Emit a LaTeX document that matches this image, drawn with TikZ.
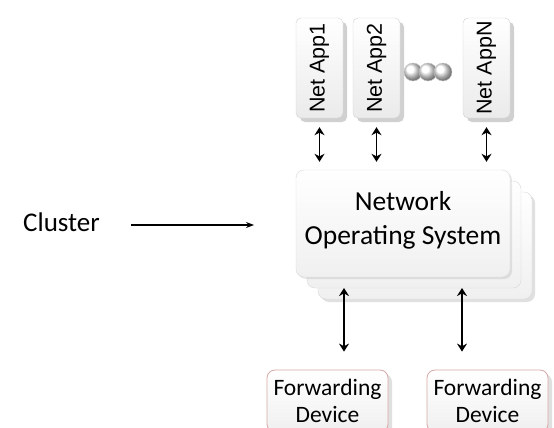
\documentclass[tikz,border=0pt]{standalone}
\usepackage{fontspec}
\setmainfont{Carlito}
\newfontfamily\appfont{Liberation Sans}
\usetikzlibrary{shadows,arrows.meta}
\definecolor{fwdborder}{RGB}{214,168,168}
\begin{document}
\begin{tikzpicture}[x=1pt,y=-1pt,
  appbox/.style={draw=black!18, rounded corners=5pt, top color=white, bottom color=black!8,
    minimum width=47pt, minimum height=100pt, inner sep=0pt,
    drop shadow={shadow xshift=4pt, shadow yshift=-4pt, opacity=0.3, fill=black!60}},
  noslayer/.style={draw=black!15, rounded corners=8pt, top color=white, bottom color=blue!4!black!6,
    minimum width=214pt, minimum height=107pt, inner sep=0pt},
  fwdbox/.style={draw=fwdborder, line width=0.8pt, rounded corners=8pt, top color=white, bottom color=black!6,
    minimum width=121pt, minimum height=62pt, inner sep=0pt,
    drop shadow={shadow xshift=4pt, shadow yshift=-4pt, opacity=0.2, fill=black!60}},
  ball/.style={circle, draw=black!22, ball color=white, minimum size=18pt, inner sep=0pt},
  bigarrow/.style={{Stealth[length=8pt,width=10pt]}-{Stealth[length=8pt,width=10pt]}, line width=1.8pt},
  thinarrow/.style={-{Stealth[length=8pt,width=6pt]}, line width=1.2pt},
  apptext/.style={font=\appfont\fontsize{21.5}{24}\selectfont},
  bodytext/.style={font=\fontsize{27.5}{34}\selectfont, align=center},
  fwdtext/.style={font=\fontsize{23.5}{27}\selectfont, align=center}
]
\useasboundingbox (0,0) rectangle (554,428);
\clip (0,0) rectangle (554,428);
\fill[white] (0,0) rectangle (554,428);

% Net apps
\node[appbox, apptext] (a1) at (319.5,68) {\rotatebox{90}{Net App1}};
\node[appbox, apptext] (a2) at (376.5,68) {\rotatebox{90}{Net App2}};
\node[appbox, apptext] (an) at (486.5,68) {\rotatebox{90}{Net AppN}};
\node[ball] (b1) at (413,72) {};
\node[ball] (b2) at (428,72) {};
\node[ball] (b3) at (443,72) {};

% NOS stack
\node[noslayer, drop shadow={shadow xshift=3pt, shadow yshift=-3pt, opacity=0.2, fill=black!60}] (n3) at (425,245.5) {};
\node[noslayer] (n2) at (414,234.5) {};
\node[noslayer, drop shadow={shadow xshift=2pt, shadow yshift=-2pt, opacity=0.15, fill=black!60}] (nos) at (403,223.5) {};
\node[bodytext] (nostext) at (403,220) {Network\\Operating System};

% Forwarding devices
\node[fwdbox, fwdtext] (f1) at (327.5,401) {Forwarding\\Device};
\node[fwdbox, fwdtext] (f2) at (487.5,401) {Forwarding\\Device};

% Cluster
\node[font=\fontsize{27}{30}\selectfont, anchor=west, inner sep=0pt] (cl) at (23,222) {Cluster};
\coordinate (ce) at (254,225);
\draw[thinarrow] (131,225) -- (ce);

% arrows apps <-> NOS
\draw[bigarrow, shorten <=9pt, shorten >=8pt] (a1.south) -- (a1.south |- nos.north);
\draw[bigarrow, shorten <=9pt, shorten >=8pt] (a2.south) -- (a2.south |- nos.north);
\draw[bigarrow, shorten <=9pt, shorten >=8pt] (an.south) -- (an.south |- nos.north);

% arrows NOS <-> devices
\coordinate (d1) at (344,277);
\coordinate (d2) at (462,277);
\draw[bigarrow, shorten <=11pt, shorten >=18pt] (d1) -- (d1 |- f1.north);
\draw[bigarrow, shorten <=11pt, shorten >=18pt] (d2) -- (d2 |- f2.north);
\end{tikzpicture}
\end{document}
